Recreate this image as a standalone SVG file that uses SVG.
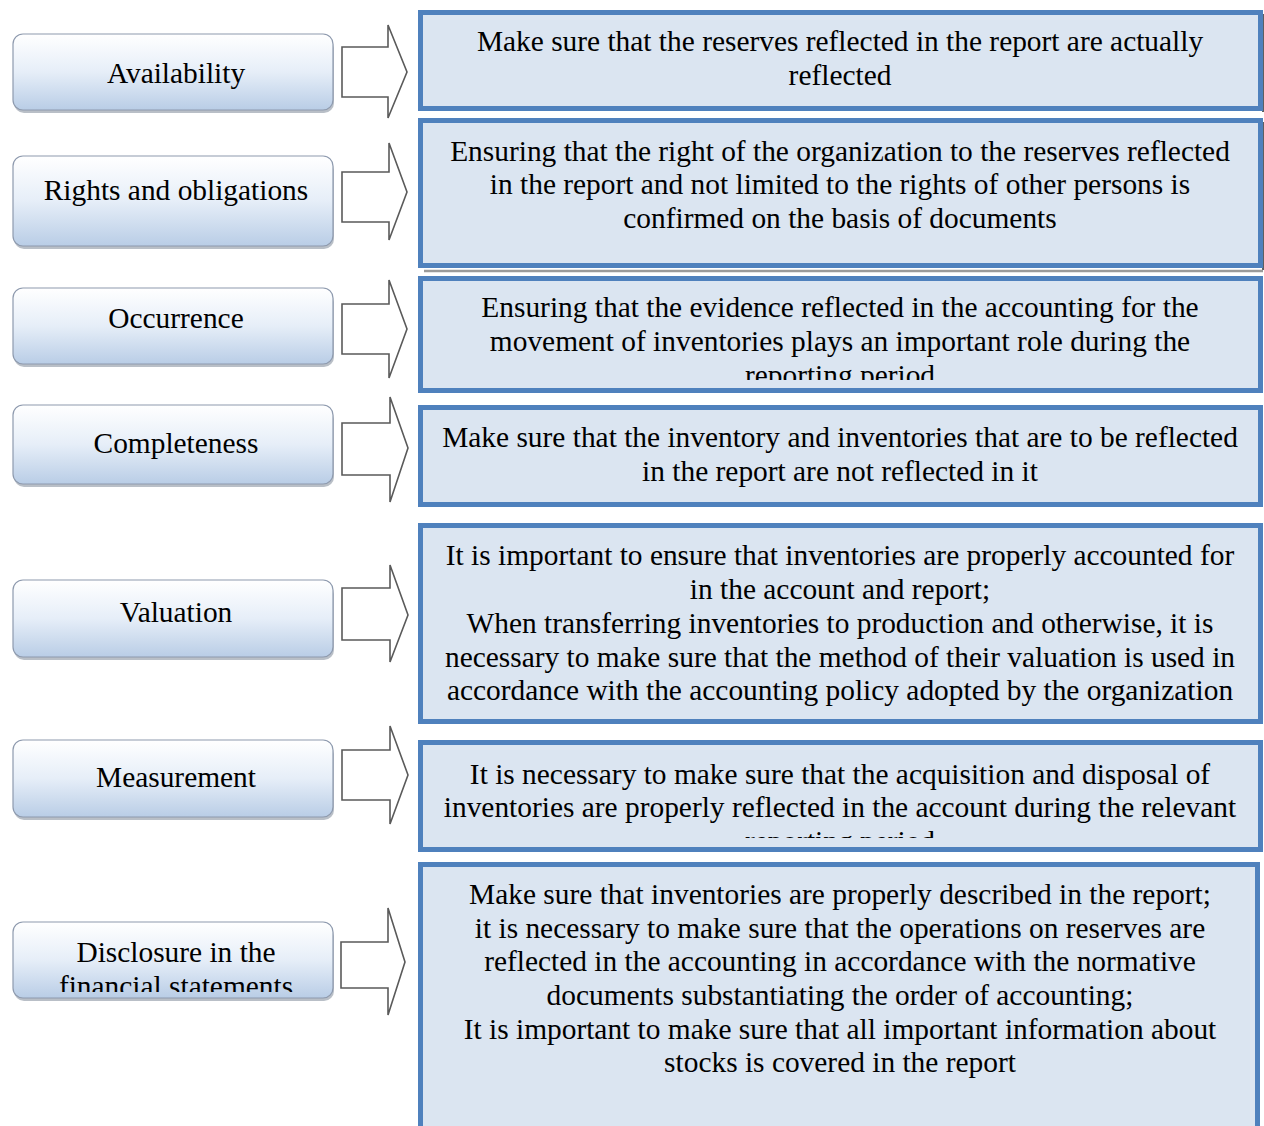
<svg xmlns="http://www.w3.org/2000/svg" width="1264" height="1126" viewBox="0 0 1264 1126">
<style>
.lbox{fill:url(#lg);stroke:#8e9aae;stroke-width:1.2}
.shadow{fill:#7f8a99;opacity:0.55}
.rbox{fill:#dbe5f1;stroke:#4f81bd;stroke-width:5}
.arrow{fill:#ffffff;stroke:#5a5a5a;stroke-width:1.6;stroke-linejoin:miter}
text{font-family:"Liberation Serif","Times New Roman",serif;font-size:29.4px;fill:#000;text-anchor:middle}
</style>
<defs>
<linearGradient id="lg" x1="0" y1="0" x2="0" y2="1">
<stop offset="0" stop-color="#ffffff"/>
<stop offset="0.5" stop-color="#e6eef8"/>
<stop offset="1" stop-color="#b9cde6"/>
</linearGradient>
<clipPath id="c3"><rect x="420" y="276" width="842" height="104"/></clipPath>
<clipPath id="c6"><rect x="420" y="740" width="842" height="98"/></clipPath>
<clipPath id="c7"><rect x="10" y="920" width="330" height="72"/></clipPath>
</defs>
<rect width="1264" height="1126" fill="#ffffff"/>

<g id="connectors">
<path class="arrow" d="M342,47 H388 V25 L407,72 L388,118 V97 H342 Z"/>
<path class="arrow" d="M342,172 H389 V143 L407,192 L389,240 V222 H342 Z"/>
<path class="arrow" d="M342,304 H389 V280 L407,329 L389,378 V354 H342 Z"/>
<path class="arrow" d="M342,423 H390 V397 L408,448 L390,502 V475 H342 Z"/>
<path class="arrow" d="M342,588 H390 V565 L408,615 L390,662 V640 H342 Z"/>
<path class="arrow" d="M342,750 H390 V726 L408,775 L390,824 V800 H342 Z"/>
<path class="arrow" d="M341,942 H388 V908 L405,962 L388,1015 V988 H341 Z"/>
</g>

<g id="n1">
<rect class="shadow" x="14" y="38" width="320" height="75" rx="10"/>
<rect class="lbox" x="13" y="34" width="320" height="76" rx="10"/>
<text x="176" y="83">Availability</text>
</g>
<g id="n2">
<rect class="shadow" x="14" y="160" width="320" height="89" rx="10"/>
<rect class="lbox" x="13" y="156" width="320" height="90" rx="10"/>
<text x="176" y="200">Rights and obligations</text>
</g>
<g id="n3">
<rect class="shadow" x="14" y="292" width="320" height="75" rx="10"/>
<rect class="lbox" x="13" y="288" width="320" height="76" rx="10"/>
<text x="176" y="328">Occurrence</text>
</g>
<g id="n4">
<rect class="shadow" x="14" y="409" width="320" height="78" rx="10"/>
<rect class="lbox" x="13" y="405" width="320" height="79" rx="10"/>
<text x="176" y="453">Completeness</text>
</g>
<g id="n5">
<rect class="shadow" x="14" y="584" width="320" height="76" rx="10"/>
<rect class="lbox" x="13" y="580" width="320" height="77" rx="10"/>
<text x="176" y="622">Valuation</text>
</g>
<g id="n6">
<rect class="shadow" x="14" y="744" width="320" height="76" rx="10"/>
<rect class="lbox" x="13" y="740" width="320" height="77" rx="10"/>
<text x="176" y="787">Measurement</text>
</g>
<g id="n7">
<rect class="shadow" x="14" y="926" width="320" height="75" rx="10"/>
<rect class="lbox" x="13" y="922" width="320" height="76" rx="10"/>
<g clip-path="url(#c7)">
<text x="176" y="962">Disclosure in the</text>
<text x="176" y="996">financial statements</text>
</g>
</g>

<g id="r1">
<line x1="1263" y1="14" x2="1263" y2="112" stroke="#5f5f5f" stroke-width="2"/>
<rect class="rbox" x="420.5" y="12.5" width="840" height="96"/>
<text x="840" y="51">Make sure that the reserves reflected in the report are actually</text>
<text x="840" y="85">reflected</text>
</g>
<g id="r2">
<line x1="1263" y1="122" x2="1263" y2="270" stroke="#5f5f5f" stroke-width="2"/>
<line x1="424" y1="271" x2="1263" y2="271" stroke="#9a9a9a" stroke-width="2.5"/>
<rect class="rbox" x="420.5" y="120.5" width="840" height="145"/>
<text x="840" y="161">Ensuring that the right of the organization to the reserves reflected</text>
<text x="840" y="194">in the report and not limited to the rights of other persons is</text>
<text x="840" y="228">confirmed on the basis of documents</text>
</g>
<g id="r3">
<rect class="rbox" x="420.5" y="278.5" width="840" height="112"/>
<g clip-path="url(#c3)">
<text x="840" y="317">Ensuring that the evidence reflected in the accounting for the</text>
<text x="840" y="351">movement of inventories plays an important role during the</text>
<text x="840" y="385">reporting period</text>
</g>
</g>
<g id="r4">
<rect class="rbox" x="420.5" y="407.5" width="840" height="97"/>
<text x="840" y="447">Make sure that the inventory and inventories that are to be reflected</text>
<text x="840" y="481">in the report are not reflected in it</text>
</g>
<g id="r5">
<rect class="rbox" x="420.5" y="525.5" width="840" height="196"/>
<text x="840" y="565">It is important to ensure that inventories are properly accounted for</text>
<text x="840" y="599">in the account and report;</text>
<text x="840" y="633">When transferring inventories to production and otherwise, it is</text>
<text x="840" y="667">necessary to make sure that the method of their valuation is used in</text>
<text x="840" y="700">accordance with the accounting policy adopted by the organization</text>
</g>
<g id="r6">
<rect class="rbox" x="420.5" y="742.5" width="840" height="107"/>
<g clip-path="url(#c6)">
<text x="840" y="784">It is necessary to make sure that the acquisition and disposal of</text>
<text x="840" y="817">inventories are properly reflected in the account during the relevant</text>
<text x="840" y="851">reporting period</text>
</g>
</g>
<g id="r7">
<rect class="rbox" x="420.5" y="864.5" width="837" height="280"/>
<text x="840" y="904">Make sure that inventories are properly described in the report;</text>
<text x="840" y="938">it is necessary to make sure that the operations on reserves are</text>
<text x="840" y="971">reflected in the accounting in accordance with the normative</text>
<text x="840" y="1005">documents substantiating the order of accounting;</text>
<text x="840" y="1039">It is important to make sure that all important information about</text>
<text x="840" y="1072">stocks is covered in the report</text>
</g>
</svg>
